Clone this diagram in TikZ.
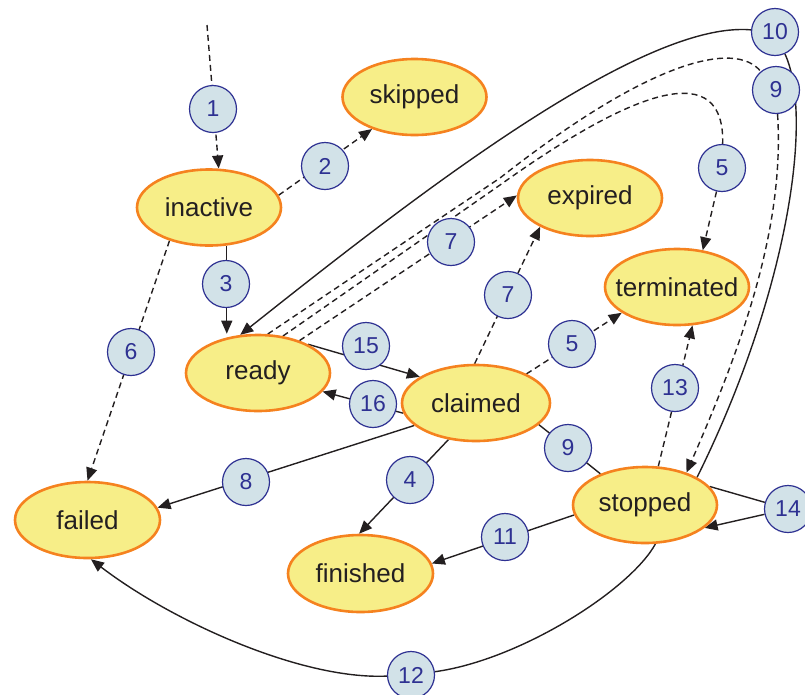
\documentclass[tikz,border=0pt]{standalone}
\usepackage{fontspec}
\setmainfont{Liberation Sans}
\usetikzlibrary{arrows.meta,shapes.geometric,backgrounds}
\definecolor{stfill}{HTML}{F7EE88}
\definecolor{stline}{HTML}{F5821F}
\definecolor{nfill}{HTML}{D2E2E8}
\definecolor{nline}{HTML}{2E3192}
\definecolor{ink}{HTML}{231F20}
\newcommand\stlab[1]{\makebox[0pt]{#1}}
\begin{document}
\begin{tikzpicture}[x=1pt,y=-1pt,
  state/.style={ellipse,draw=stline,fill=stfill,line width=2.6pt,minimum width=144pt,minimum height=76pt,inner sep=0pt,font=\fontsize{26}{30}\selectfont,text=ink},
  num/.style={circle,draw=nline,fill=nfill,line width=1.2pt,minimum size=47pt,inner sep=0pt,font=\fontsize{23}{27}\selectfont,text=nline},
  edge/.style={draw=ink,line width=1.4pt},
  dsh/.style={dash pattern=on 6pt off 4pt},
  arr/.style={-{Triangle[length=13pt,width=11pt]}}
]
\useasboundingbox (0,0) rectangle (805,694);
% states
\node[state] (inactive) at (209,207.5) {\stlab{inactive}};
\node[state] (skipped) at (414.5,97) {\stlab{skipped}};
\node[state] (expired) at (590,198) {\stlab{expired}};
\node[state] (terminated) at (677,287) {\stlab{terminated}};
\node[state] (ready) at (258,373) {\stlab{ready}};
\node[state,minimum width=148pt] (claimed) at (476,403) {\stlab{claimed}};
\node[state] (stopped) at (645,505) {\stlab{stopped}};
\node[state,minimum width=145pt] (failed) at (87.5,520) {\stlab{failed}};
\node[state,minimum width=145pt,minimum height=77pt] (finished) at (360.5,573.5) {\stlab{finished}};
% numbered circles
\node[num] (c1) at (213,109) {1};
\node[num] (c2) at (325,166) {2};
\node[num] (c3) at (226,284) {3};
\node[num] (c6) at (131,352) {6};
\node[num] (c7a) at (451,242) {7};
\node[num] (c7b) at (508,295) {7};
\node[num] (c5a) at (722,168) {5};
\node[num] (c5b) at (572,344) {5};
\node[num] (c15) at (366,346) {15};
\node[num] (c16) at (373,404) {16};
\node[num] (c9a) at (568,448) {9};
\node[num] (c9b) at (776,90) {9};
\node[num] (c10) at (775,32) {10};
\node[num] (c13) at (675,388) {13};
\node[num] (c8) at (246,482) {8};
\node[num] (c4) at (410,480) {4};
\node[num] (c11) at (505,537) {11};
\node[num] (c14) at (788,509) {14};
\node[num] (c12) at (411,675) {12};
\coordinate (top) at (207,25);
\begin{scope}[on background layer]
\draw[edge,dsh,arr] (top) -- (inactive.76);
\draw[edge,dsh,arr] (inactive.10) -- (skipped.-143);
\draw[edge,arr] (inactive.-65) -- (inactive.-65 |- ready.north);
\draw[edge,dsh,arr] (inactive.-140) -- (failed.90);
\draw[edge,dsh,arr] (ready.38) -- (expired.178);
\draw[edge,dsh,arr] (claimed.92) -- (expired.-150);
\draw[edge,dsh,arr] (claimed.30) -- (terminated.205);
\draw[edge,arr] (ready.30) -- (claimed.155);
\draw[edge,arr] (claimed.188) -- (ready.-16);
\draw[edge] (claimed.-19) -- (stopped.145);
\draw[edge,arr] (claimed.200) -- (failed.10);
\draw[edge,arr] (claimed.-127) -- (finished.92);
\draw[edge,arr] (stopped.188) -- (finished.8);
\draw[edge,dsh,arr] (stopped.71) -- (terminated.-68);
\draw[edge] (stopped.16) -- (c14);
\draw[edge,arr] (c14) -- (stopped.-21);
\draw[edge,dsh] (ready.56) -- (500,185) .. controls (640,85) and (725,60) .. (c5a);
\draw[edge,dsh,arr] (c5a) -- (terminated.55);
\draw[edge,dsh] (ready.76) -- (500,178) .. controls (650,60) and (735,40) .. (c9b);
\draw[edge,dsh,arr] (c9b) .. controls (785,230) and (740,350) .. (stopped.38);
\draw[edge] (stopped.28) .. controls (785,300) and (815,120) .. (c10);
\draw[edge,arr] (c10) .. controls (640,20) and (410,200) .. (ready.115);
\draw[edge] (stopped.-75) .. controls (630,590) and (520,660) .. (c12);
\draw[edge,arr] (c12) .. controls (300,680) and (170,620) .. (failed.-85);
\end{scope}
\end{tikzpicture}
\end{document}
